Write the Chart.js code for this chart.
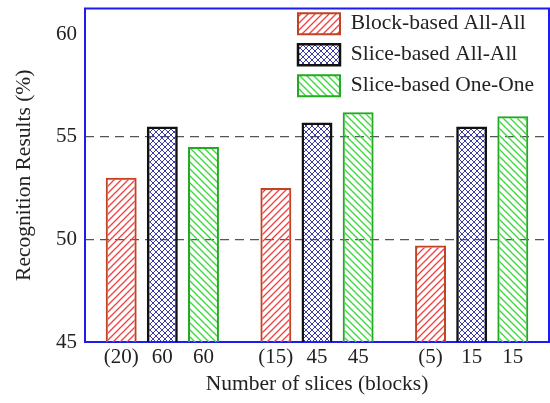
<!DOCTYPE html>
<html>
<head>
<meta charset="utf-8">
<script src="https://cdn.jsdelivr.net/npm/chart.js"></script>
<style>
  body { margin: 0; background: #fff; }
  canvas { display: block; }
</style>
</head>
<body>
<canvas id="chart" width="550" height="403"></canvas>
<script>
// data
const groups = ['60 slices', '45 slices', '15 slices'];
const seriesNames = ['Block-based All-All', 'Slice-based All-All', 'Slice-based One-One'];
const blockAllAll = [53.0, 52.5, 49.7];
const sliceAllAll = [55.5, 55.7, 55.5];
const sliceOneOne = [54.5, 56.2, 56.0];
const xTickLabels = ['(20)', '60', '60', '(15)', '45', '45', '(5)', '15', '15'];
const yTicks = [45, 50, 55, 60];

const SERIF = "'Liberation Serif', 'Times New Roman', serif";
const CAT_PCT = 0.798;

const canvas = document.getElementById('chart');
const ctx = canvas.getContext('2d');

// hatch tile: dir 1 = "/", -1 = "\", 0 = both
function hatch(color, dir, size, lw) {
  const tile = document.createElement('canvas');
  tile.width = tile.height = size;
  const t = tile.getContext('2d');
  t.strokeStyle = color;
  t.lineWidth = lw;
  t.beginPath();
  if (dir >= 0) {
    t.moveTo(0, size); t.lineTo(size, 0);
    t.moveTo(-size / 2, size / 2); t.lineTo(size / 2, -size / 2);
    t.moveTo(size / 2, size * 1.5); t.lineTo(size * 1.5, size / 2);
  }
  if (dir <= 0) {
    t.moveTo(0, 0); t.lineTo(size, size);
    t.moveTo(-size / 2, size / 2); t.lineTo(size / 2, size * 1.5);
    t.moveTo(size / 2, -size / 2); t.lineTo(size * 1.5, size / 2);
  }
  t.stroke();
  return ctx.createPattern(tile, 'repeat');
}

const redHatch = hatch('#f04040', 1, 7, 1.3);
const blueHatch = hatch('#3c3ca8', 0, 6, 1);
const greenHatch = hatch('#38d838', -1, 7, 1.3);

// blue frame round the plot area, under the bars
const frame = {
  id: 'frame',
  beforeDatasetsDraw(chart) {
    const a = chart.chartArea;
    const c = chart.ctx;
    c.save();
    c.strokeStyle = '#1c1cf0';
    c.lineWidth = 2;
    c.strokeRect(a.left, a.top, a.right - a.left, a.bottom - a.top);
    c.restore();
  },
};

// move the legend into the top right corner of the plot
const legendSpot = {
  id: 'legendSpot',
  afterLayout(chart) {
    const lg = chart.legend;
    const pad = lg.options.labels.padding;
    lg.left = 298 - pad;
    lg.right = chart.chartArea.right;
    lg.top = 13 - pad;
    lg.bottom = chart.chartArea.bottom;
  },
};

new Chart(canvas, {
  type: 'bar',
  data: {
    labels: groups,
    datasets: [{
      label: seriesNames[0],
      data: blockAllAll,
      backgroundColor: redHatch,
      borderColor: '#c04424',
      borderWidth: 2,
    }, {
      label: seriesNames[1],
      data: sliceAllAll,
      backgroundColor: blueHatch,
      borderColor: '#111111',
      borderWidth: 2.5,
    }, {
      label: seriesNames[2],
      data: sliceOneOne,
      backgroundColor: greenHatch,
      borderColor: '#22aa22',
      borderWidth: 2,
    }],
  },
  options: {
    responsive: false,
    animation: false,
    categoryPercentage: CAT_PCT,
    barPercentage: 0.752,
    datasets: { bar: { borderSkipped: false } },
    layout: { padding: { top: 8.5, right: 1, left: 0, bottom: 0 } },
    plugins: {
      tooltip: { enabled: false },
      legend: {
        position: 'chartArea',
        align: 'start',
        labels: {
          boxWidth: 42,
          boxHeight: 21,
          padding: 9.5,
          color: '#222',
          font: { family: SERIF, size: 21.5 },
        },
      },
    },
    scales: {
      x: { display: false },
      x2: {
        type: 'linear',
        position: 'bottom',
        offset: false,
        min: -0.5,
        max: 2.5,
        afterBuildTicks(scale) {
          const step = CAT_PCT / 3;
          const ticks = [];
          groups.forEach((g, gi) => {
            [-1, 0, 1].forEach((k) => ticks.push({ value: gi + k * step }));
          });
          scale.ticks = ticks;
        },
        afterFit(scale) {
          scale.height = 61;
          scale.paddingLeft = 0;
          scale.paddingRight = 0;
        },
        grid: { display: false, drawTicks: false, offset: false },
        border: { display: false },
        ticks: {
          autoSkip: false,
          maxRotation: 0,
          padding: 3,
          color: '#222',
          font: { family: SERIF, size: 21 },
          callback: (v, i) => xTickLabels[i],
        },
        title: {
          display: true,
          text: 'Number of slices (blocks)',
          color: '#222',
          font: { family: SERIF, size: 21.5, lineHeight: 1.2 },
          padding: { top: 0, bottom: 6 },
        },
      },
      y: {
        min: 45,
        max: 61.25,
        afterBuildTicks(scale) {
          scale.ticks = yTicks.map((v) => ({ value: v }));
        },
        afterFit(scale) {
          scale.width = 85;
          scale.paddingTop = 0;
          scale.paddingBottom = 0;
        },
        grid: {
          drawTicks: false,
          color: (c) => (c.tick && (c.tick.value === 50 || c.tick.value === 55) ? '#555' : 'rgba(0,0,0,0)'),
          lineWidth: 1.3,
        },
        border: { display: false, dash: [9, 6] },
        ticks: {
          padding: 8,
          color: '#222',
          font: { family: SERIF, size: 21 },
        },
        title: {
          display: true,
          text: 'Recognition Results (%)',
          color: '#222',
          font: { family: SERIF, size: 21.5, lineHeight: 1.2 },
          padding: { top: 11, bottom: 0 },
        },
      },
    },
  },
  plugins: [frame, legendSpot],
});
</script>
</body>
</html>
